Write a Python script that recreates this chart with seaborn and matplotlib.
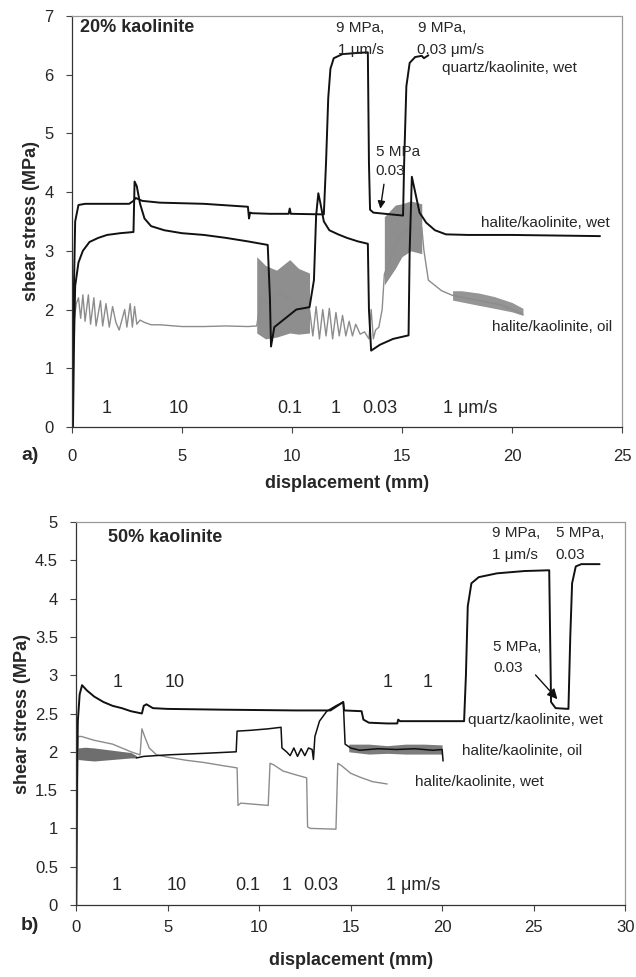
import numpy as np
import pandas as pd
import seaborn as sns
import matplotlib.pyplot as plt
from matplotlib.ticker import FuncFormatter

# ---- panel a: 20% kaolinite ----
qa_x = [0, 0.05, 0.15, 0.3, 0.6, 1.5, 2.6, 2.8, 2.9, 3.2, 4, 6, 8.0, 8.05, 8.1, 8.2, 9.0, 9.85, 9.9, 9.95,
        11.45, 11.55, 11.65, 11.75, 11.9, 12.3, 13.0, 13.45, 13.5, 13.55, 13.7, 14.5, 15.05,
        15.1, 15.2, 15.35, 15.6, 15.9, 16.0, 16.2]
qa_y = [0, 1.5, 3.5, 3.78, 3.8, 3.8, 3.8, 3.85, 3.9, 3.85, 3.82, 3.8, 3.75, 3.55, 3.65, 3.64, 3.63, 3.63, 3.72, 3.63,
        3.62, 4.5, 5.6, 6.1, 6.28, 6.35, 6.37, 6.38, 4.5, 3.7, 3.65, 3.62, 3.6,
        4.5, 5.8, 6.2, 6.3, 6.32, 6.28, 6.33]

hwa_x = [0.05, 0.1, 0.15, 0.3, 0.5, 0.8, 1.2, 1.6, 2.2, 2.8, 2.85, 2.95, 3.1, 3.3, 3.6, 4.2, 5.0, 6.0, 7.0,
         8.0, 8.9, 9.0, 9.05, 9.2, 9.6, 10.2, 10.8, 11.0, 11.1, 11.2, 11.3, 11.45, 11.7, 12.1, 12.5,
         13.0, 13.45, 13.5, 13.6, 14.0, 14.6, 15.3, 15.35, 15.45, 15.6, 15.8, 16.1, 16.5, 17.0, 18, 20,
         22, 24.0]
hwa_y = [0, 1.5, 2.4, 2.8, 3.0, 3.15, 3.22, 3.27, 3.3, 3.32, 4.18, 4.1, 3.8, 3.55, 3.42, 3.35, 3.3, 3.27, 3.22,
         3.16, 3.1, 2.2, 1.37, 1.7, 1.82, 2.0, 2.04, 2.5, 3.6, 3.98, 3.8, 3.5, 3.35, 3.28, 3.22,
         3.16, 3.12, 2.0, 1.3, 1.4, 1.5, 1.56, 3.0, 4.26, 4.0, 3.65, 3.48, 3.35, 3.28, 3.27, 3.27,
         3.26, 3.25]

oa_x = [0.1, 0.2, 0.3, 0.4, 0.5, 0.6, 0.75, 0.85, 1.0, 1.1, 1.3, 1.4, 1.55, 1.7, 1.85, 2.0, 2.15, 2.4,
        2.5, 2.65, 2.75, 2.85, 2.95, 3.1, 3.3, 3.6, 4.0, 5, 6, 7, 8, 8.4, 8.6, 9.0, 9.4, 9.8, 10.2, 10.6,
        10.8, 10.95, 11.1, 11.25, 11.4, 11.55, 11.7, 11.85, 12.0, 12.15, 12.3, 12.45, 12.6, 12.75, 12.9,
        13.1, 13.3, 13.5, 13.6, 13.7, 13.8, 13.95, 14.1, 14.2, 14.6, 15.0, 15.5, 15.9,
        16.0, 16.2, 16.8, 17.3, 18.5, 19.5, 20.5]
oa_y = [1.8, 2.1, 2.2, 1.85, 2.25, 1.8, 2.25, 1.75, 2.2, 1.72, 2.15, 1.72, 2.1, 1.7, 2.05, 1.78, 1.65, 2.0,
        1.7, 2.1, 1.7, 2.05, 1.75, 1.82, 1.78, 1.74, 1.74, 1.71, 1.71, 1.72, 1.71, 1.72, 2.2, 2.1, 2.3, 2.2, 2.1, 2.0,
        2.0, 1.55, 2.05, 1.5, 2.0, 1.55, 2.02, 1.5, 1.95, 1.55, 1.9, 1.55, 1.8, 1.55, 1.75,
        1.58, 1.62, 1.5, 2.0, 1.5, 1.65, 1.7, 2.0, 2.6, 3.0, 3.3, 3.4, 3.4,
        3.0, 2.5, 2.32, 2.24, 2.15, 2.08, 1.92]

# noisy bands of the oil run (upper / lower envelope)
ba_x = [8.4, 8.8, 9.3, 9.9, 10.3, 10.8]
ba_hi = [2.9, 2.75, 2.67, 2.85, 2.7, 2.62]
ba_lo = [1.6, 1.5, 1.53, 1.6, 1.58, 1.6]
ca_x = [14.2, 14.7, 15.0, 15.4, 15.9]
ca_hi = [3.58, 3.78, 3.8, 3.85, 3.8]
ca_lo = [2.42, 2.7, 2.9, 3.0, 2.95]
da_x = [17.3, 17.7, 18.5, 19.2, 20.0, 20.5]
da_hi = [2.32, 2.32, 2.28, 2.22, 2.12, 2.02]
da_lo = [2.16, 2.13, 2.07, 2.02, 1.96, 1.9]

va_lab = ['1', '10', '0.1', '1', '0.03', '1 \u03bcm/s']
va_x = [1.6, 4.85, 9.9, 12.0, 14.0, 18.1]

# ---- panel b: 50% kaolinite ----
qb_x = [0, 0.05, 0.1, 0.2, 0.33, 0.6, 1.0, 1.5, 2.0, 2.5, 3.0, 3.6, 3.7, 3.85, 4.2, 5, 8, 12, 13.9, 14.6, 14.65,
        15.6, 15.7, 16.0, 17.0, 17.55, 17.6, 17.7, 19, 21.2, 21.3, 21.4, 21.6, 22.0, 23, 24.5, 25.85,
        25.9, 25.95, 26.2, 26.9, 27.0, 27.1, 27.3, 27.6, 28.6]
qb_y = [0, 1.5, 2.4, 2.75, 2.87, 2.8, 2.72, 2.65, 2.6, 2.57, 2.53, 2.5, 2.6, 2.62, 2.57, 2.56, 2.55, 2.54, 2.54, 2.65, 2.54,
        2.53, 2.42, 2.38, 2.37, 2.37, 2.42, 2.4, 2.4, 2.4, 3.0, 3.9, 4.2, 4.28, 4.33, 4.36, 4.37,
        3.5, 2.65, 2.57, 2.56, 3.5, 4.2, 4.42, 4.45, 4.45]

ob_x = [3.3, 3.7, 5, 7, 8.75, 8.8, 9.5, 10.5, 11.2, 11.25, 11.5, 11.7, 11.9, 12.1, 12.3, 12.5, 12.7, 12.9,
        12.97, 13.05, 13.3, 13.7, 14.2, 14.6, 14.7, 15.0, 15.5, 16.5, 17.5, 18.5, 19.5, 20.0, 20.05]
ob_y = [1.92, 1.94, 1.96, 1.98, 2.0, 2.27, 2.28, 2.3, 2.32, 2.05, 2.0, 1.95, 2.05, 1.94, 2.04, 1.95, 2.05, 2.03,
        1.9, 2.2, 2.4, 2.53, 2.6, 2.65, 2.1, 2.05, 2.02, 2.04, 2.03, 2.04, 2.02, 2.03, 1.88]
bb_x = [0.1, 0.5, 1.0, 2.0, 3.0, 3.3]
bb_hi = [2.05, 2.06, 2.05, 2.02, 1.99, 1.95]
bb_lo = [1.9, 1.89, 1.88, 1.9, 1.92, 1.92]
cb_x = [14.9, 16.0, 17.0, 18.0, 19.0, 20.0]
cb_hi = [2.1, 2.1, 2.08, 2.1, 2.1, 2.09]
cb_lo = [2.0, 1.97, 1.98, 1.97, 1.97, 1.97]

hwb_x = [0.05, 0.1, 0.3, 1.0, 2.0, 3.0, 3.5, 3.6, 3.75, 4.0, 4.4, 5.0, 6, 7, 8.0, 8.8, 8.85, 9.0, 10.0,
         10.5, 10.6, 10.8, 11.3, 12.0, 12.6, 12.65, 12.8, 14.2, 14.3, 14.5, 15.0, 15.5, 16.2, 17.0]
hwb_y = [0, 2.2, 2.2, 2.15, 2.1, 2.0, 1.96, 2.3, 2.2, 2.05, 1.96, 1.93, 1.89, 1.86, 1.82, 1.79, 1.3, 1.33, 1.31,
         1.3, 1.85, 1.83, 1.75, 1.7, 1.66, 1.02, 1.0, 0.99, 1.85, 1.82, 1.72, 1.67, 1.61, 1.58]

vb_lab = ['1', '10', '0.1', '1', '0.03', '1 \u03bcm/s']
vb_x = [2.2, 5.5, 9.4, 11.5, 13.4, 18.4]
tb_lab = ['1', '10', '1', '1']
tb_x = [2.3, 5.4, 17.0, 19.2]

sns.set_style('ticks')
plt.rcParams['font.family'] = ['Liberation Sans', 'DejaVu Sans']

fig = plt.figure(figsize=(6.36, 9.77), dpi=100)
ax1 = fig.add_axes([0.113, 0.563, 0.865, 0.4207])
ax2 = fig.add_axes([0.1195, 0.0737, 0.8635, 0.392])

black = '#111111'
grey = '#8c8c8c'


def line(ax, x, y, c, lw):
    sns.lineplot(x=x, y=y, sort=False, estimator=None, color=c, lw=lw, ax=ax)


# panel a
ax1.fill_between(ba_x, ba_lo, ba_hi, color='#7a7a7a', lw=0, alpha=0.85)
ax1.fill_between(ca_x, ca_lo, ca_hi, color='#7a7a7a', lw=0, alpha=0.85)
ax1.fill_between(da_x, da_lo, da_hi, color='#8a8a8a', lw=0, alpha=0.9)
line(ax1, oa_x, oa_y, grey, 1.0)
line(ax1, qa_x, qa_y, black, 1.4)
line(ax1, hwa_x, hwa_y, black, 1.4)

# panel b
ax2.fill_between(bb_x, bb_lo, bb_hi, color='#555555', lw=0, alpha=0.85)
ax2.fill_between(cb_x, cb_lo, cb_hi, color='#444444', lw=0, alpha=0.7)
line(ax2, hwb_x, hwb_y, grey, 1.0)
line(ax2, ob_x, ob_y, black, 1.1)
line(ax2, qb_x, qb_y, black, 1.4)

fmt = FuncFormatter(lambda v, p: '%g' % v)
setup = [(ax1, 25, 7, np.arange(0, 7.1, 1), 12, 8),
         (ax2, 30, 5, np.arange(0, 5.01, 0.5), 7, 12)]
for ax, xm, ym, yt, xpad, lpad in setup:
    ax.set_xlim(0, xm)
    ax.set_ylim(0, ym)
    ax.set_xticks(np.arange(0, xm + 0.1, 5))
    ax.set_yticks(yt)
    ax.yaxis.set_major_formatter(fmt)
    ax.tick_params(axis='both', labelsize=12, length=4, width=0.8, color='#444')
    ax.tick_params(axis='x', pad=xpad)
    ax.tick_params(axis='y', pad=9)
    for s in ['top', 'right']:
        ax.spines[s].set_visible(True)
        ax.spines[s].set_color('#999999')
        ax.spines[s].set_linestyle((0, (1, 1)))
        ax.spines[s].set_linewidth(0.9)
    for s in ['left', 'bottom']:
        ax.spines[s].set_color('#333333')
        ax.spines[s].set_linewidth(0.9)
    ax.set_xlabel('displacement (mm)', fontsize=13, fontweight='bold', labelpad=lpad)
    ax.set_ylabel('shear stress (MPa)', fontsize=13, fontweight='bold', labelpad=3)

# annotations panel a
ax1.text(0.35, 6.8, '20% kaolinite', fontsize=13, fontweight='bold', va='center')
ax1.text(12.0, 6.8, '9 MPa,', fontsize=11, va='center')
ax1.text(12.1, 6.42, '1 \u03bcm/s', fontsize=11, va='center')
ax1.text(15.75, 6.8, '9 MPa,', fontsize=11, va='center')
ax1.text(15.7, 6.42, '0.03 \u03bcm/s', fontsize=11, va='center')
ax1.text(16.8, 6.12, 'quartz/kaolinite, wet', fontsize=11, va='center')
ax1.text(13.8, 4.68, '5 MPa', fontsize=11, va='center')
ax1.text(13.8, 4.36, '0.03', fontsize=11, va='center')
ax1.annotate('', xy=(14.0, 3.67), xytext=(14.2, 4.18),
             arrowprops=dict(arrowstyle='-|>', color=black, lw=1.0, mutation_scale=11))
ax1.text(18.6, 3.48, 'halite/kaolinite, wet', fontsize=11, va='center')
ax1.text(19.1, 1.7, 'halite/kaolinite, oil', fontsize=11, va='center')
for t, x in zip(va_lab, va_x):
    ax1.text(x, 0.32, t, fontsize=13, ha='center', va='center')

# annotations panel b
ax2.text(1.75, 4.8, '50% kaolinite', fontsize=13, fontweight='bold', va='center')
ax2.text(22.7, 4.86, '9 MPa,', fontsize=11, va='center')
ax2.text(22.7, 4.57, '1 \u03bcm/s', fontsize=11, va='center')
ax2.text(26.2, 4.86, '5 MPa,', fontsize=11, va='center')
ax2.text(26.2, 4.57, '0.03', fontsize=11, va='center')
ax2.text(22.8, 3.37, '5 MPa,', fontsize=11, va='center')
ax2.text(22.8, 3.1, '0.03', fontsize=11, va='center')
ax2.annotate('', xy=(26.4, 2.66), xytext=(25.0, 3.03),
             arrowprops=dict(arrowstyle='-|>', color=black, lw=1.0, mutation_scale=15))
ax2.text(21.4, 2.42, 'quartz/kaolinite, wet', fontsize=11, va='center')
ax2.text(21.1, 2.01, 'halite/kaolinite, oil', fontsize=11, va='center')
ax2.text(18.5, 1.6, 'halite/kaolinite, wet', fontsize=11, va='center')
for t, x in zip(vb_lab, vb_x):
    ax2.text(x, 0.25, t, fontsize=13, ha='center', va='center')
for t, x in zip(tb_lab, tb_x):
    ax2.text(x, 2.9, t, fontsize=13, ha='center', va='center')

fig.text(0.033, 1 - 456 / 977, 'a)', fontsize=14, fontweight='bold', va='center')
fig.text(0.033, 1 - 926 / 977, 'b)', fontsize=14, fontweight='bold', va='center')

fig.savefig('out.png', dpi=100)
